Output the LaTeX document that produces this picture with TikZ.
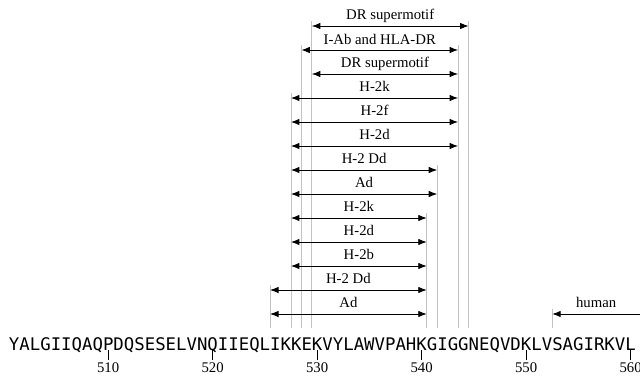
\documentclass[tikz,border=0pt]{standalone}
\usepackage{fontspec}
\setmainfont{Liberation Serif}
\newfontfamily\seqfont{DejaVu Sans Mono}
\usepackage{tikz}
\usetikzlibrary{arrows.meta}
\definecolor{guidegray}{RGB}{195,195,195}

\begin{document}
\begin{tikzpicture}[x=10.45bp, y=-24bp,
        span/.style={line width=0.9bp, {Latex[length=8.5bp,width=6.5bp]}-{Latex[length=8.5bp,width=6.5bp]}},
        halfspan/.style={line width=0.9bp, {Latex[length=8.5bp,width=6.5bp]}-},
        guide/.style={guidegray, line width=0.8bp},
        lbl/.style={anchor=base, yshift=6bp, inner sep=0pt, font=\fontsize{14.8}{17}\selectfont},
        tick/.style={line width=0.8bp}]
    % page size (x in residues, y in rows)
    \useasboundingbox (499.665,-0.0833) rectangle (560.91,15.625);

    % Vertical guides from the epitope ends down to the sequence
    \def\guidebot{13.58}
    \foreach \x/\top in {525.5/12, 527.5/4, 528.5/2, 529.5/1, 540.5/9,
                         541.5/7, 543.5/2, 544.5/1, 552.5/13} {
        \draw[guide] (\x,{\top-0.2}) -- (\x,\guidebot);
    }

    % Epitope spans, one per row
    \foreach \row/\from/\to/\lbl in {1/529.5/544.5/DR supermotif,
                                      2/528.5/543.5/I-Ab and HLA-DR,
                                      3/529.5/543.5/DR supermotif,
                                      4/527.5/543.5/H-2k,
                                      5/527.5/543.5/H-2f,
                                      6/527.5/543.5/H-2d,
                                      7/527.5/541.5/H-2 Dd,
                                      8/527.5/541.5/Ad,
                                      9/527.5/540.5/H-2k,
                                      10/527.5/540.5/H-2d,
                                      11/527.5/540.5/H-2b,
                                      12/525.5/540.5/H-2 Dd,
                                      13/525.5/540.5/Ad} {
        \coordinate (a\row) at (\from,\row);
        \coordinate (b\row) at (\to,\row);
        \draw[span] (a\row) -- (b\row) node[lbl, midway] (lbl\row) {\lbl};
    }

    % Human span runs off the right edge
    \coordinate (hstart) at (552.5,13);
    \coordinate (hend) at (560.91,13);
    \draw[halfspan] (hstart) -- (hend) node[lbl, midway] (lblhuman) {human};

    % Sequence, residue 501 starts at x=500.5
    \node[anchor=base west, inner sep=0pt, font=\seqfont\fontsize{17.42}{20}\selectfont]
        (seq) at (500.5,14.54) {YALGIIQAQPDQSESELVNQIIEQLIKKEKVYLAWVPAHKGIGGNEQVDKLVSAGIRKVL};

    % Residue numbers
    \foreach \n in {510,520,...,560} {
        \draw[tick] (\n,14.5) -- (\n,14.92);
        \node[anchor=north, inner sep=0pt, font=\fontsize{14.8}{17}\selectfont]
            (num\n) at (\n,15.02) {\n};
    }
\end{tikzpicture}
\end{document}
